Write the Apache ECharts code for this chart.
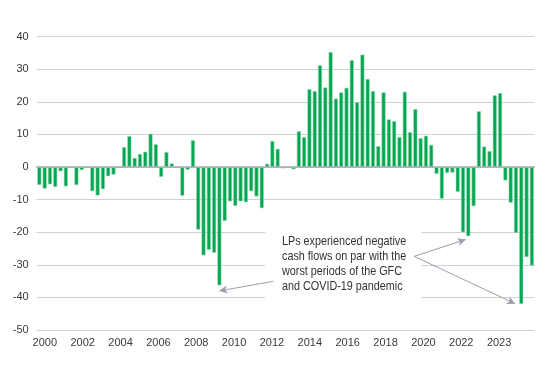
<!DOCTYPE html>
<html>
<head>
<meta charset="utf-8">
<script src="https://cdn.jsdelivr.net/npm/echarts@6/dist/echarts.min.js"></script>
<style>
html,body{margin:0;padding:0;background:#fff;}
#chart{width:556px;height:369px;}
</style>
</head>
<body>
<div id="chart"></div>
<script>
// ---- data ----
const years = [2000,2001,2002,2003,2004,2005,2006,2007,2008,2009,2010,2011,2012,2013,2014,2015,2016,2017,2018,2019,2020,2021,2022,2023];
const quarters = ['Q1','Q2','Q3','Q4'];
const cashFlows = [
  -5.5, -6.6, -5.3, -6.1,   // 2000
  -1.3, -5.9,  0.0, -5.5,   // 2001
  -0.9,  0.0, -7.4, -8.7,   // 2002
  -6.8, -2.8, -2.3,  0.0,   // 2003
   6.1,  9.5,  2.8,  4.0,   // 2004
   4.7, 10.2,  7.0, -3.0,   // 2005
   4.6,  1.1,  0.0, -8.8,   // 2006
  -0.8,  8.2, -19.2, -27.1, // 2007
  -25.4, -26.3, -36.3, -16.5, // 2008
  -10.5, -11.9, -10.5, -10.8, // 2009
  -7.4, -9.0, -12.6,  1.0,  // 2010
   8.0,  5.6, -0.4,  0.0,   // 2011
  -0.7, 11.0,  9.2, 23.9,   // 2012
  23.3, 31.2, 24.4, 35.3,   // 2013
  21.0, 22.9, 24.3, 32.8,   // 2014
  19.9, 34.5, 27.0, 23.3,   // 2015
   6.4, 22.9, 14.6, 14.1,   // 2016
   9.2, 23.1, 10.7, 17.8,   // 2017
   8.9,  9.6,  6.8, -2.1,   // 2018
  -9.7, -1.8, -1.7, -7.6,   // 2019
  -20.0, -21.2, -12.0, 17.1, // 2020
   6.3,  4.9, 22.0, 22.7,   // 2021
  -4.1, -10.9, -20.2, -42.0, // 2022
  -27.6, -30.2              // 2023
];
const xTickLabels = ['2000','2002','2004','2006','2008','2010','2012','2014','2016','2018','2020','2022','2023'];
const yTicks = {min: -50, max: 40, step: 10};
const annotation = ['LPs experienced negative','cash flows on par with the','worst periods of the GFC','and COVID-19 pandemic'];

// categories (one per quarter)
const categories = [];
for (const y of years) for (const q of quarters) {
  if (categories.length < cashFlows.length) categories.push(y + ' ' + q);
}

// evenly spread year labels (as in the original), in quarter-slot units
const labelStart = 1.53, labelStep = 7.149;
const labelPos = xTickLabels.map((_, k) => labelStart + k * labelStep);

const chart = echarts.init(document.getElementById('chart'), null, {renderer: 'canvas'});
const font = "'Liberation Sans', Arial, sans-serif";
const arrowStyle = {color: '#9d9dab', width: 1, type: 'solid'};

chart.setOption({
  animation: false,
  backgroundColor: '#ffffff',
  grid: {left: 36.7, right: 21.5, top: 36.7, bottom: 39, containLabel: false},
  xAxis: [
    {
      type: 'category',
      data: categories,
      position: 'bottom',
      boundaryGap: true,
      axisLine: {show: true, onZero: true, lineStyle: {color: '#a9a9b3', width: 1.5}},
      axisTick: {show: false},
      axisLabel: {show: false},
      splitLine: {show: false},
      z: 3
    },
    {
      type: 'value',
      min: 0,
      max: cashFlows.length,
      position: 'bottom',
      axisLine: {show: false, onZero: false},
      axisTick: {show: false},
      splitLine: {show: false},
      axisLabel: {
        show: true,
        customValues: labelPos,
        margin: 7,
        color: '#3a3a3a',
        fontFamily: font,
        fontSize: 11,
        formatter: function (v) {
          const k = Math.round((v - labelStart) / labelStep);
          return xTickLabels[k] || '';
        }
      }
    }
  ],
  yAxis: {
    type: 'value',
    min: yTicks.min,
    max: yTicks.max,
    interval: yTicks.step,
    axisLine: {show: false},
    axisTick: {show: false},
    axisLabel: {color: '#3a3a3a', fontFamily: font, fontSize: 11, margin: 8},
    splitLine: {show: true, lineStyle: {color: '#cfcfd9', width: 1}},
    z: 0
  },
  graphic: {
    zlevel: 0,
    z: 1,
    elements: [
      {
        type: 'rect',
        z: 1,
        shape: {x: 265, y: 226, width: 156.5, height: 76},
        style: {fill: '#ffffff'}
      },
      {
        type: 'text',
        z: 1,
        z2: 10,
        x: 282,
        y: 234,
        scaleX: 0.83,
        scaleY: 1,
        style: {
          text: annotation.join('\n'),
          fill: '#333333',
          font: "13px 'Liberation Sans', Arial, sans-serif",
          lineHeight: 15
        }
      }
    ]
  },
  series: [
    {
      type: 'bar',
      xAxisIndex: 0,
      data: cashFlows,
      barCategoryGap: '25%',
      itemStyle: {color: '#00a651', borderColor: '#8fd8ad', borderWidth: 0.6},
      z: 2
    },
    {
      type: 'scatter',
      xAxisIndex: 1,
      data: [],
      silent: true,
      z: 4,
      markLine: {
        silent: true,
        symbol: ['none', 'arrow'],
        symbolSize: [6, 8],
        label: {show: false},
        lineStyle: arrowStyle,
        data: [
          [{coord: [44.64, -35.07]}, {coord: [34.49, -37.99]}],
          [{coord: [71.28, -27.40]}, {coord: [81.0, -22.25]}],
          [{coord: [71.28, -27.40]}, {coord: [90.34, -41.92]}]
        ]
      }
    }
  ]
});
</script>
</body>
</html>
